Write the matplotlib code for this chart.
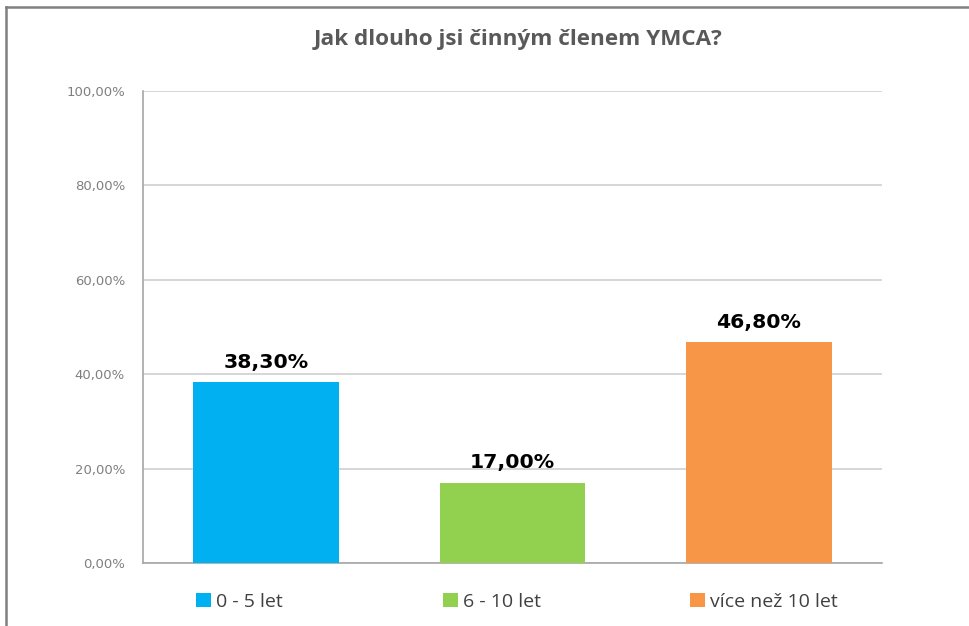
import matplotlib
matplotlib.use("Agg")
import matplotlib.pyplot as plt
from matplotlib.patches import Patch
from matplotlib.lines import Line2D
from matplotlib.font_manager import FontProperties

categories = ["0 - 5 let", "6 - 10 let", "více než 10 let"]
values = [38.30, 17.00, 46.80]
colors = ["#00B0F0", "#92D050", "#F79646"]
yticks = [0, 20, 40, 60, 80, 100]
title = "Jak dlouho jsi činným členem YMCA?"

fig = plt.figure(figsize=(9.7, 6.26), dpi=100)
fig.patch.set_facecolor("white")

ax = fig.add_axes([143/970, 1-563/626, (882-143)/970, (563-91)/626])
x = list(range(len(categories)))
bars = ax.bar(x, values, width=0.59, color=colors, zorder=3)
ax.set_xlim(-0.5, len(categories)-0.5)
ax.set_ylim(0, 100)
ax.set_yticks(yticks)
ax.set_yticklabels([f"{v:.2f}".replace(".", ",") + "%" for v in yticks],
                   fontsize=9.5, color="#7F7F7F")
ax.set_xticks([])
ax.tick_params(axis="y", length=0, pad=13)
ax.grid(axis="y", color="#D0D0D0", linewidth=1.2, zorder=0)
for s in ["top", "right"]:
    ax.spines[s].set_visible(False)
ax.spines["left"].set_color("#A6A6A6")
ax.spines["left"].set_linewidth(1.2)
ax.spines["bottom"].set_color("#A6A6A6")
ax.spines["bottom"].set_linewidth(1.2)

for b, v in zip(bars, values):
    ax.annotate(f"{v:.2f}".replace(".", ",") + "%",
                (b.get_x() + b.get_width()/2, v), xytext=(0, 7.5),
                textcoords="offset points", ha="center", va="bottom",
                fontsize=14.7, fontweight="bold", color="#000000")

fig.text(518/970, 1-40/626, title, ha="center", va="center", fontsize=16.2,
         fontweight="bold", color="#595959",
         family=["Open Sans", "DejaVu Sans"])

legend_x = [196, 443, 690]
leg_font = FontProperties(family="Open Sans", size=14)
for cat, c, lx in zip(categories, colors, legend_x):
    leg = fig.legend([Patch(facecolor=c, edgecolor="none")], [cat],
                     loc="center left", bbox_to_anchor=(lx/970, 1-602/626),
                     frameon=False, handlelength=0.75, handleheight=0.75,
                     handletextpad=0.3, borderpad=0, borderaxespad=0,
                     prop=leg_font)
    for t in leg.get_texts():
        t.set_color("#404040")

# outer frame lines (top and left)
fig.add_artist(Line2D([6/970, 1], [1-7/626, 1-7/626], color="#808080", lw=1.8,
                      transform=fig.transFigure))
fig.add_artist(Line2D([6/970, 6/970], [0, 1-7/626], color="#808080", lw=1.8,
                      transform=fig.transFigure))

fig.savefig("out.png", dpi=100)
